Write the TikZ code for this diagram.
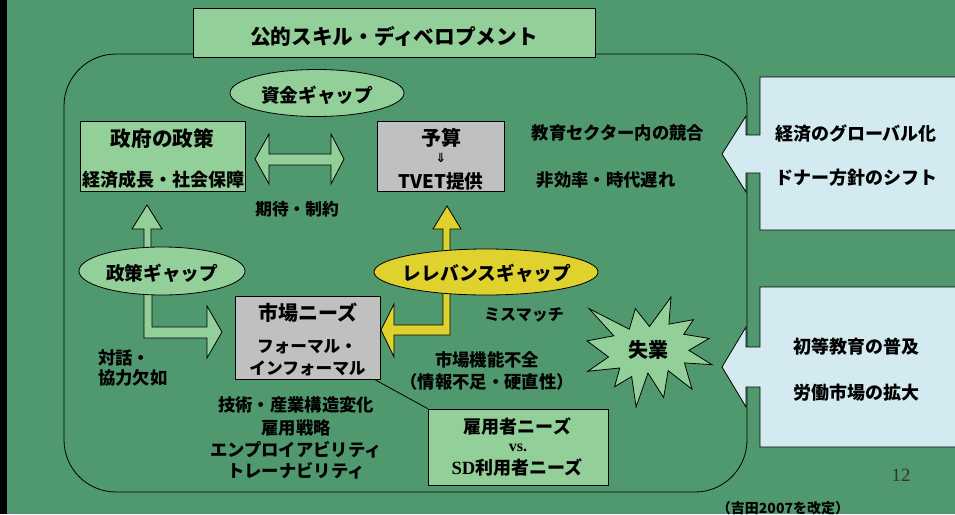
\documentclass[tikz,border=0pt]{standalone}
\usepackage{fontspec}
\newfontfamily\jp{Noto Sans CJK JP}
\newfontfamily\ser{Liberation Serif}
\newfontfamily\dvs{DejaVu Sans}
\definecolor{bgc}{RGB}{80,152,110}
\definecolor{lgreen}{RGB}{147,207,152}
\definecolor{lgray}{RGB}{192,192,192}
\definecolor{ylw}{RGB}{224,210,46}
\definecolor{lblue}{RGB}{210,234,240}
\tikzset{
  tx/.style={inner sep=0pt, font=\jp\bfseries\fontsize{#1}{#1}\selectfont},
  shp/.style={draw=black, line width=0.6pt},
  gbox/.style={shp, fill=lgreen, inner sep=0pt},
  graybox/.style={shp, fill=lgray, inner sep=0pt},
  gell/.style={shp, fill=lgreen, ellipse, inner sep=0pt},
}
\usetikzlibrary{shapes.geometric}
\begin{document}
\begin{tikzpicture}[x=0.75pt,y=-0.75pt]
\useasboundingbox (0,0) rectangle (955,514);
\clip (0,0) rectangle (955,514);
\fill[bgc] (0,0) rectangle (955,514);
\fill[black] (0,0) rectangle (7,514);

% big rounded frame
\draw[line width=0.6pt, rounded corners=39pt] (64,54) rectangle (747,492);

% title
\node[gbox, minimum width=301.5pt, minimum height=36.75pt] (titlebox) at (394,32.5) {};
\node[tx=15.5pt] (title) at (394,36) {公的スキル・ディベロプメント};

% callouts right
\fill[lblue, shp] (760,77) -- (958,77) -- (958,230) -- (760,230) -- (760,173) -- (746,173) -- (746,192) -- (722,154) -- (746,116) -- (746,135) -- (760,135) -- cycle;
\fill[lblue, shp] (760,287) -- (958,287) -- (958,447) -- (760,447) -- (760,387) -- (746,387) -- (746,407) -- (722,367) -- (746,327) -- (746,347) -- (760,347) -- cycle;
\node[tx=13.5pt] (glob) at (856,134) {経済のグローバル化};
\node[tx=13.5pt] (donor) at (856,178) {ドナー方針のシフト};
\node[tx=13.5pt] (prim) at (856,347) {初等教育の普及};
\node[tx=13.5pt] (labor) at (856,393) {労働市場の拡大};

% boxes
\node[gbox, minimum width=123.75pt, minimum height=52.5pt] (gov) at (162.5,156) {};
\node[tx=15.5pt] (govt) at (162.5,139) {政府の政策};
\node[tx=13.5pt] (govs) at (163,180) {経済成長・社会保障};

\node[graybox, minimum width=95.25pt, minimum height=52.5pt] (bud) at (440.5,156) {};
\node[tx=15pt] (budt) at (441,138) {予算};
\node[inner sep=0pt, font=\dvs\bfseries\fontsize{9.5pt}{9.5pt}\selectfont] (buda) at (441,158) {⇓};
\node[tx=14pt] (buds) at (441,181) {TVET提供};

% double arrow
\fill[lgreen, shp] (255,159) -- (269,134) -- (269,154) -- (331,154) -- (331,134) -- (344,159) -- (331,184) -- (331,165) -- (269,165) -- (269,184) -- cycle;
\node[tx=12.5pt] (expect) at (297,209) {期待・制約};

% funding gap ellipse
\node[gell, minimum width=130.5pt, minimum height=35.25pt] (fund) at (317,93) {};
\node[tx=14pt] (fundt) at (317,95) {資金ギャップ};

\node[tx=13pt] (comp) at (618,133) {教育セクター内の競合};
\node[tx=13pt] (ineff) at (606,180) {非効率・時代遅れ};

% green arrows
\fill[lgreen, shp] (147,205) -- (162,229) -- (151,229) -- (151,258) -- (144,258) -- (144,229) -- (132,229) -- cycle;
\fill[lgreen, shp] (144,285) -- (144,338) -- (207,338) -- (207,358) -- (222,332) -- (207,306) -- (207,327) -- (152,327) -- (152,285) -- cycle;

% yellow arrow
\fill[ylw, shp] (447,206) -- (461,229) -- (450,229) -- (450,335) -- (394,335) -- (394,357) -- (381,330) -- (394,304) -- (394,325) -- (443,325) -- (443,229) -- (433,229) -- cycle;

% policy gap ellipse
\node[gell, minimum width=124.5pt, minimum height=36pt] (pol) at (162,271) {};
\node[tx=14pt] (polt) at (162,273) {政策ギャップ};

% relevance gap ellipse
\node[shp, ellipse, fill=ylw, inner sep=0pt, minimum width=168pt, minimum height=34.5pt] (rel) at (486,272) {};
\node[tx=14pt] (relt) at (487,273) {レレバンスギャップ};

% market needs
\node[graybox, minimum width=108.75pt, minimum height=62.25pt] (mkt) at (307.5,337.5) {};
\node[tx=15pt] (mktt) at (307.5,313) {市場ニーズ};
\node[tx=12.5pt] (mkt1) at (307,347) {フォーマル・};
\node[tx=12.5pt] (mkt2) at (307.5,368) {インフォーマル};

\node[tx=13pt, anchor=west] (dia1) at (98,358) {対話・};
\node[tx=13pt, anchor=west] (dia2) at (98,378) {協力欠如};

\node[tx=12pt] (mis) at (524,315) {ミスマッチ};
\node[tx=13pt] (fail1) at (487,360) {市場機能不全};
\node[tx=13pt] (fail2) at (487,382) {（情報不足・硬直性）};

% unemployment star
\begin{scope}[shift={(587,297)}, x=0.43403pt, y=-0.38194pt]
\fill[lgreen, shp] (108,58) -- (145.22,0) -- (141.55,53.25) -- (183.8,44.57) -- (167.02,73.15) -- (210.97,81.37) -- (176.07,104.75) -- (216,132.9) -- (168.37,129.42) -- (181.45,180.95) -- (140.2,144.57) -- (132.47,197.37) -- (105.32,149.35) -- (84.85,216) -- (77.15,156.27) -- (47.62,176.17) -- (56.67,139.37) -- (1.35,145.87) -- (37.22,117.75) -- (0,86.15) -- (46.27,76.17) -- (3.7,22.95) -- (73.12,63.2) -- (83.52,22.95) -- cycle;
\end{scope}
\node[tx=15pt] (unemp) at (648,350) {失業};

% tech text
\node[tx=13pt] (tech1) at (296,405) {技術・産業構造変化};
\node[tx=13pt] (tech2) at (296,428) {雇用戦略};
\node[tx=13pt] (tech3) at (296,450) {エンプロイアビリティ};
\node[tx=13pt] (tech4) at (296,471) {トレーナビリティ};

% employer needs
\node[gbox, minimum width=135pt, minimum height=57pt] (emp) at (518,447) {};
\draw[line width=0.6pt] ([xshift=-4.5pt]mkt.south east) -- (emp.north west);
\node[tx=13.5pt] (emp1) at (517.5,427) {雇用者ニーズ};
\node[inner sep=0pt, font=\ser\bfseries\fontsize{12pt}{12pt}\selectfont] (emp2) at (518,448) {vs.};
\node[tx=13.5pt] (emp3) at (517,468) {{\ser\bfseries\fontsize{14pt}{14pt}\selectfont SD}利用者ニーズ};

\node[inner sep=0pt, font=\ser\fontsize{14pt}{14pt}\selectfont, text=black!80] (pg) at (901,475) {12};
\node[tx=10.5pt] (src) at (783,508) {（吉田2007を改定）};
\end{tikzpicture}
\end{document}
